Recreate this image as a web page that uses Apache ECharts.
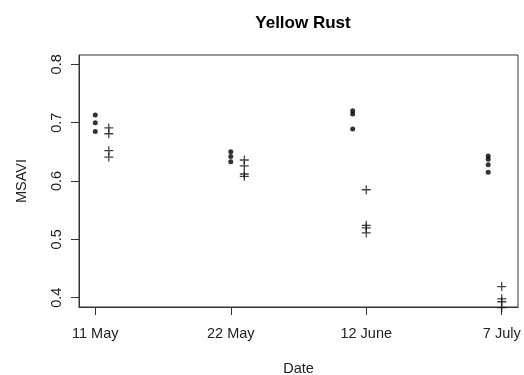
<!DOCTYPE html>
<html>
<head>
<meta charset="utf-8">
<script src="https://cdn.jsdelivr.net/npm/echarts@6/dist/echarts.min.js"></script>
<style>
html,body{margin:0;padding:0;background:#fff;}
#chart{width:524px;height:375px;}
</style>
</head>
<body>
<div id="chart"></div>
<script>
// Date categories (tick labels) and their positions on the x scale
const dateLabels = ['11 May', '22 May', '12 June', '7 July'];
const dateTicks = [1, 2, 3, 4];
const yTicks = [0.4, 0.5, 0.6, 0.7, 0.8];

// Healthy plots (dots): x position per date and MSAVI values
const healthyX = [1, 2, 2.9, 3.9];
const healthyValues = [
  [0.713, 0.700, 0.685],
  [0.650, 0.642, 0.633],
  [0.7205, 0.715, 0.689],
  [0.643, 0.6375, 0.628, 0.615]
];

// Infected plots (crosses): x position per date and MSAVI values
const infectedX = [1.1, 2.1, 3, 4];
const infectedValues = [
  [0.691, 0.681, 0.652, 0.641],
  [0.636, 0.626, 0.612, 0.608],
  [0.585, 0.524, 0.5195, 0.511],
  [0.419, 0.398, 0.393, 0.383]
];

function toPoints(xs, vals) {
  const out = [];
  xs.forEach((x, i) => vals[i].forEach(v => out.push([x, v])));
  return out;
}

const FONT = '"Liberation Sans", Arial, sans-serif';
const TXT = '#222';
const LINE = '#333';

const chart = echarts.init(document.getElementById('chart'), null, {renderer: 'canvas'});
chart.setOption({
  animation: false,
  backgroundColor: '#fff',
  title: {
    text: 'Yellow Rust',
    left: 298, top: 10, textAlign: 'center',
    textStyle: {fontFamily: FONT, fontSize: 17, fontWeight: 'bold', color: '#000'}
  },
  grid: {
    left: 79, right: 6, top: 55, bottom: 68,
    outerBoundsMode: 'none', containLabel: false,
    show: true, borderColor: LINE, borderWidth: 1, backgroundColor: 'transparent'
  },
  xAxis: {
    type: 'value', min: 0.88, max: 4.12,
    name: 'Date', nameLocation: 'middle', nameGap: 54,
    nameTextStyle: {fontFamily: FONT, fontSize: 14.5, color: TXT},
    axisLine: {show: true, onZero: false, lineStyle: {color: LINE, width: 1}},
    axisTick: {show: true, length: 8, customValues: dateTicks, lineStyle: {color: LINE, width: 1}},
    axisLabel: {
      customValues: dateTicks, margin: 19,
      fontFamily: FONT, fontSize: 14.5, color: TXT,
      formatter: v => dateLabels[dateTicks.indexOf(Math.round(v))] || ''
    },
    splitLine: {show: false}
  },
  yAxis: {
    type: 'value', min: 0.384, max: 0.816,
    name: 'MSAVI', nameLocation: 'middle', nameGap: 50, nameRotate: 90,
    nameTextStyle: {fontFamily: FONT, fontSize: 14.5, color: TXT},
    axisLine: {show: true, onZero: false, lineStyle: {color: LINE, width: 1}},
    axisTick: {show: true, length: 8, customValues: yTicks, lineStyle: {color: LINE, width: 1}},
    axisLabel: {
      customValues: yTicks, margin: 15, rotate: 90,
      fontFamily: FONT, fontSize: 14.5, color: TXT,
      formatter: v => (Math.round(v * 10) / 10).toFixed(1)
    },
    splitLine: {show: false}
  },
  series: [
    {
      name: 'healthy', type: 'scatter',
      data: toPoints(healthyX, healthyValues),
      symbol: 'circle', symbolSize: 5,
      itemStyle: {color: '#000'}
    },
    {
      name: 'infected', type: 'scatter', clip: false,
      data: toPoints(infectedX, infectedValues),
      symbol: 'path://M0,4.3H10V5.7H0Z M4.3,0H5.7V10H4.3Z', symbolSize: 9,
      itemStyle: {color: '#111'}
    }
  ]
});
</script>
</body>
</html>
